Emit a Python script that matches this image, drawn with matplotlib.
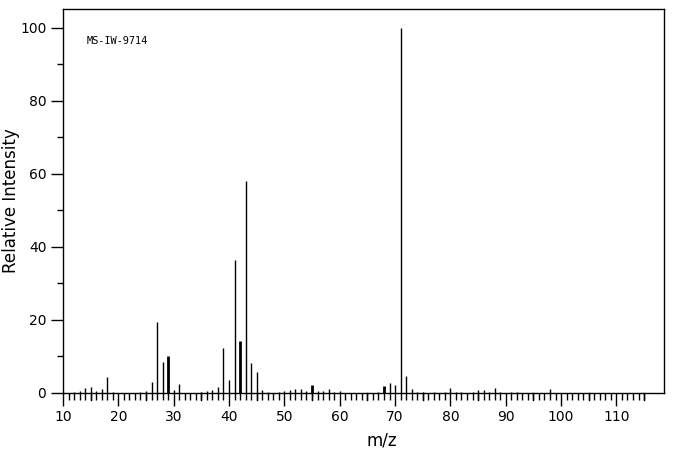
import numpy as np
import matplotlib
matplotlib.use("Agg")
from matplotlib import pyplot as plt
from matplotlib.ticker import MultipleLocator

plt.rcParams['font.family'] = ['DejaVu Sans']

# mass spectrum peaks
mz = [12, 13, 14, 15, 16, 17, 18, 19, 24, 25, 26, 27, 28, 29, 30, 31,
      35, 36, 37, 38, 39, 40, 41, 42, 43, 44, 45, 46, 47, 49, 50, 51, 52, 53,
      54, 55, 56, 57, 58, 59, 60, 67, 68, 69, 70, 71, 72, 73, 74, 75, 77,
      79, 80, 81, 82, 84, 85, 86, 87, 88, 89, 91, 92, 98]
intensity = [0.3, 0.5, 1.3, 1.6, 0.5, 1.0, 4.4, 0.4, 0.4, 0.6, 3.0, 19.5, 8.6, 10.0, 0.9, 2.6,
             0.3, 0.5, 0.8, 1.6, 12.4, 3.5, 36.4, 14.2, 58.1, 8.1, 5.8, 0.7, 0.4, 0.3, 0.6, 0.8, 1.0, 1.2,
             0.6, 2.3, 0.6, 0.6, 1.1, 0.4, 0.6, 0.2, 2.0, 2.8, 2.3, 100.0, 4.7, 1.1, 0.3, 0.2, 0.3,
             0.4, 1.3, 0.4, 0.3, 0.2, 0.8, 0.8, 0.4, 1.3, 0.4, 0.3, 0.4, 1.0]
thick = [29, 42, 55, 68]
title = "MS-IW-9714"

fig = plt.figure(figsize=(6.76, 4.55), dpi=100)
ax = fig.add_axes([63 / 676, 62 / 455, 601 / 676, 384 / 455])

lw = [2.0 if m in thick else 1.0 for m in mz]
ax.vlines(mz, 0, intensity, colors='black', linewidth=lw)

ax.set_xlim(10, 118.6)
ax.set_ylim(0, 105.2)

ax.set_xticks(range(10, 111, 10))
ax.set_xticks(range(10, 116), minor=True)
ax.set_yticks(range(0, 101, 20))
ax.yaxis.set_minor_locator(MultipleLocator(10))
ax.tick_params(axis='both', which='major', direction='out', length=9, width=1, labelsize=10, pad=3)
ax.tick_params(axis='x', which='minor', direction='out', length=5, width=1)
ax.tick_params(axis='y', which='minor', direction='out', length=4, width=1)

# medium ticks at the fives
for m in range(15, 116, 10):
    ax.plot([m, m], [0, -6.7 / 3.65], color='black', lw=1, clip_on=False)

for s in ax.spines.values():
    s.set_linewidth(1)

ax.set_xlabel("m/z", fontsize=12)
ax.xaxis.set_label_coords(0.53, -0.1)
ax.set_ylabel("Relative Intensity", fontsize=12)
ax.yaxis.set_label_coords(-0.072, 0.5)

ax.text(0.04, 0.917, title, transform=ax.transAxes, fontsize=7.4,
        family='DejaVu Sans Mono', va='center', ha='left')

plt.savefig("out.png", dpi=100)
